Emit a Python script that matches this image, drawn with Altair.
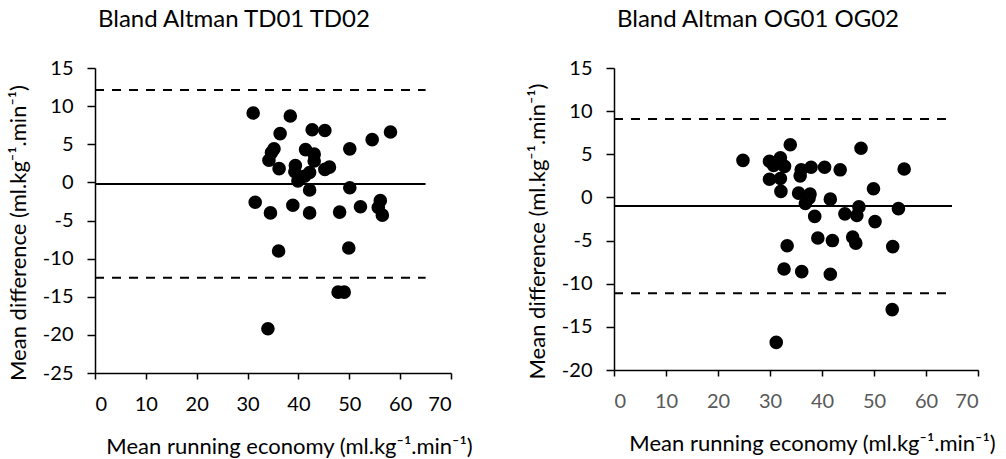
import altair as alt
import pandas as pd

# Panel 1: TD01 vs TD02
td_x = [31.1, 38.4, 36.4, 42.7, 45.2, 58.1, 54.5, 50.1, 35.2, 34.7, 34.2, 36.2, 41.4, 43.1, 43.1,
        39.4, 46.1, 45.2, 39.3, 42.2, 39.9, 41.2, 42.2, 50.1, 31.5, 34.5, 38.9, 42.2, 48.1, 52.2,
        56.1, 55.7, 56.5, 36.1, 49.9, 34.0, 47.8, 49.0]
td_y = [9.1, 8.7, 6.4, 6.9, 6.8, 6.6, 5.6, 4.4, 4.4, 3.9, 2.9, 1.8, 4.3, 3.7, 2.8,
        2.2, 2.0, 1.7, 1.4, 1.3, 0.2, 0.8, -1.0, -0.7, -2.6, -4.0, -3.0, -4.0, -3.9, -3.2,
        -2.4, -3.3, -4.3, -9.0, -8.6, -19.2, -14.4, -14.4]
td_mean = -0.2
td_limits = [12.1, -12.5]

# Panel 2: OG01 vs OG02
og_x = [24.8, 33.9, 47.5, 29.9, 32.0, 30.7, 32.8, 36.0, 37.9, 40.5, 43.5, 55.8, 29.9, 32.0, 35.8,
        32.1, 49.9, 35.5, 37.7, 37.5, 36.8, 41.6, 54.7, 38.6, 44.4, 47.1, 46.7, 50.2, 39.2, 42.0,
        45.9, 46.5, 53.6, 33.3, 32.7, 36.1, 41.6, 53.5, 31.2]
og_y = [4.3, 6.1, 5.7, 4.2, 4.6, 3.7, 3.6, 3.2, 3.5, 3.5, 3.2, 3.3, 2.1, 2.2, 2.5,
        0.7, 1.0, 0.5, 0.4, -0.1, -0.7, -0.2, -1.3, -2.2, -1.9, -1.1, -2.1, -2.8, -4.7, -5.0,
        -4.6, -5.3, -5.7, -5.6, -8.3, -8.6, -8.9, -13.0, -16.8]
og_mean = -1.0
og_limits = [9.1, -11.1]

line_start = 0
line_end = 65

x_ticks = [0, 10, 20, 30, 40, 50, 60, 70]
td_y_ticks = [15, 10, 5, 0, -5, -10, -15, -20, -25]
og_y_ticks = [15, 10, 5, 0, -5, -10, -15, -20]

titles = ["Bland Altman TD01 TD02", "Bland Altman OG01 OG02"]
x_title = "Mean running economy (ml.kg⁻¹.min⁻¹)"
y_title = "Mean difference (ml.kg⁻¹.min⁻¹)"

FONT = "Lato"


def panel(xs, ys, mean, limits, yticks, title, w, h, xlabel_color):
    pts = pd.DataFrame({"x": xs, "y": ys})
    mean_df = pd.DataFrame({"x": [line_start], "x2": [line_end], "y": [mean]})
    lim_df = pd.DataFrame({"x": [line_start] * len(limits), "x2": [line_end] * len(limits), "y": limits})

    xscale = alt.Scale(domain=[x_ticks[0], x_ticks[-1]], nice=False)
    yscale = alt.Scale(domain=[min(yticks), max(yticks)], nice=False)
    xaxis = alt.Axis(values=x_ticks, tickCount=len(x_ticks), title=x_title,
                     labelColor=xlabel_color, labelOverlap=False,
                     labelPadding=15, titlePadding=22, titleX=w / 2 + 16, tickSize=6)
    yaxis = alt.Axis(values=yticks, tickCount=len(yticks), title=y_title,
                     labelExpr="toString(datum.value)",
                     labelOverlap=False, labelPadding=14, titlePadding=12,
                     titleY=h / 2 + 12, tickSize=8)

    p = alt.Chart(pts).mark_circle(size=185, color="black", opacity=1).encode(
        x=alt.X("x:Q", scale=xscale, axis=xaxis),
        y=alt.Y("y:Q", scale=yscale, axis=yaxis),
    )
    m = alt.Chart(mean_df).mark_rule(color="black", strokeWidth=2).encode(
        x=alt.X("x:Q", scale=xscale), x2="x2:Q", y=alt.Y("y:Q", scale=yscale)
    )
    l = alt.Chart(lim_df).mark_rule(color="black", strokeWidth=2, strokeDash=[9, 8]).encode(
        x=alt.X("x:Q", scale=xscale), x2="x2:Q", y=alt.Y("y:Q", scale=yscale)
    )
    return alt.layer(l, m, p).properties(
        width=w, height=h,
        title=alt.TitleParams(title, anchor="start", frame="group", fontSize=24, font=FONT,
                              fontWeight="normal", color="black", dx=3, offset=26),
    )


left = panel(td_x, td_y, td_mean, td_limits, td_y_ticks, titles[0], 356, 305, "black")
right = panel(og_x, og_y, og_mean, og_limits, og_y_ticks, titles[1], 364, 302, "#595959")

chart = alt.hconcat(left, right, spacing=53).configure_view(stroke=None).configure_axis(
    grid=False, domainColor="black", domainWidth=1.5, tickColor="black", tickWidth=1.5,
    labelFont=FONT, labelFontSize=20, labelColor="black", labelOverlap=False,
    titleFont=FONT, titleFontSize=22, titleFontWeight="normal", titleColor="black",
).properties(padding={"left": 7, "top": 8, "right": 5, "bottom": 5})

chart.save("out.html", embed_options={"renderer": "svg", "actions": False})
